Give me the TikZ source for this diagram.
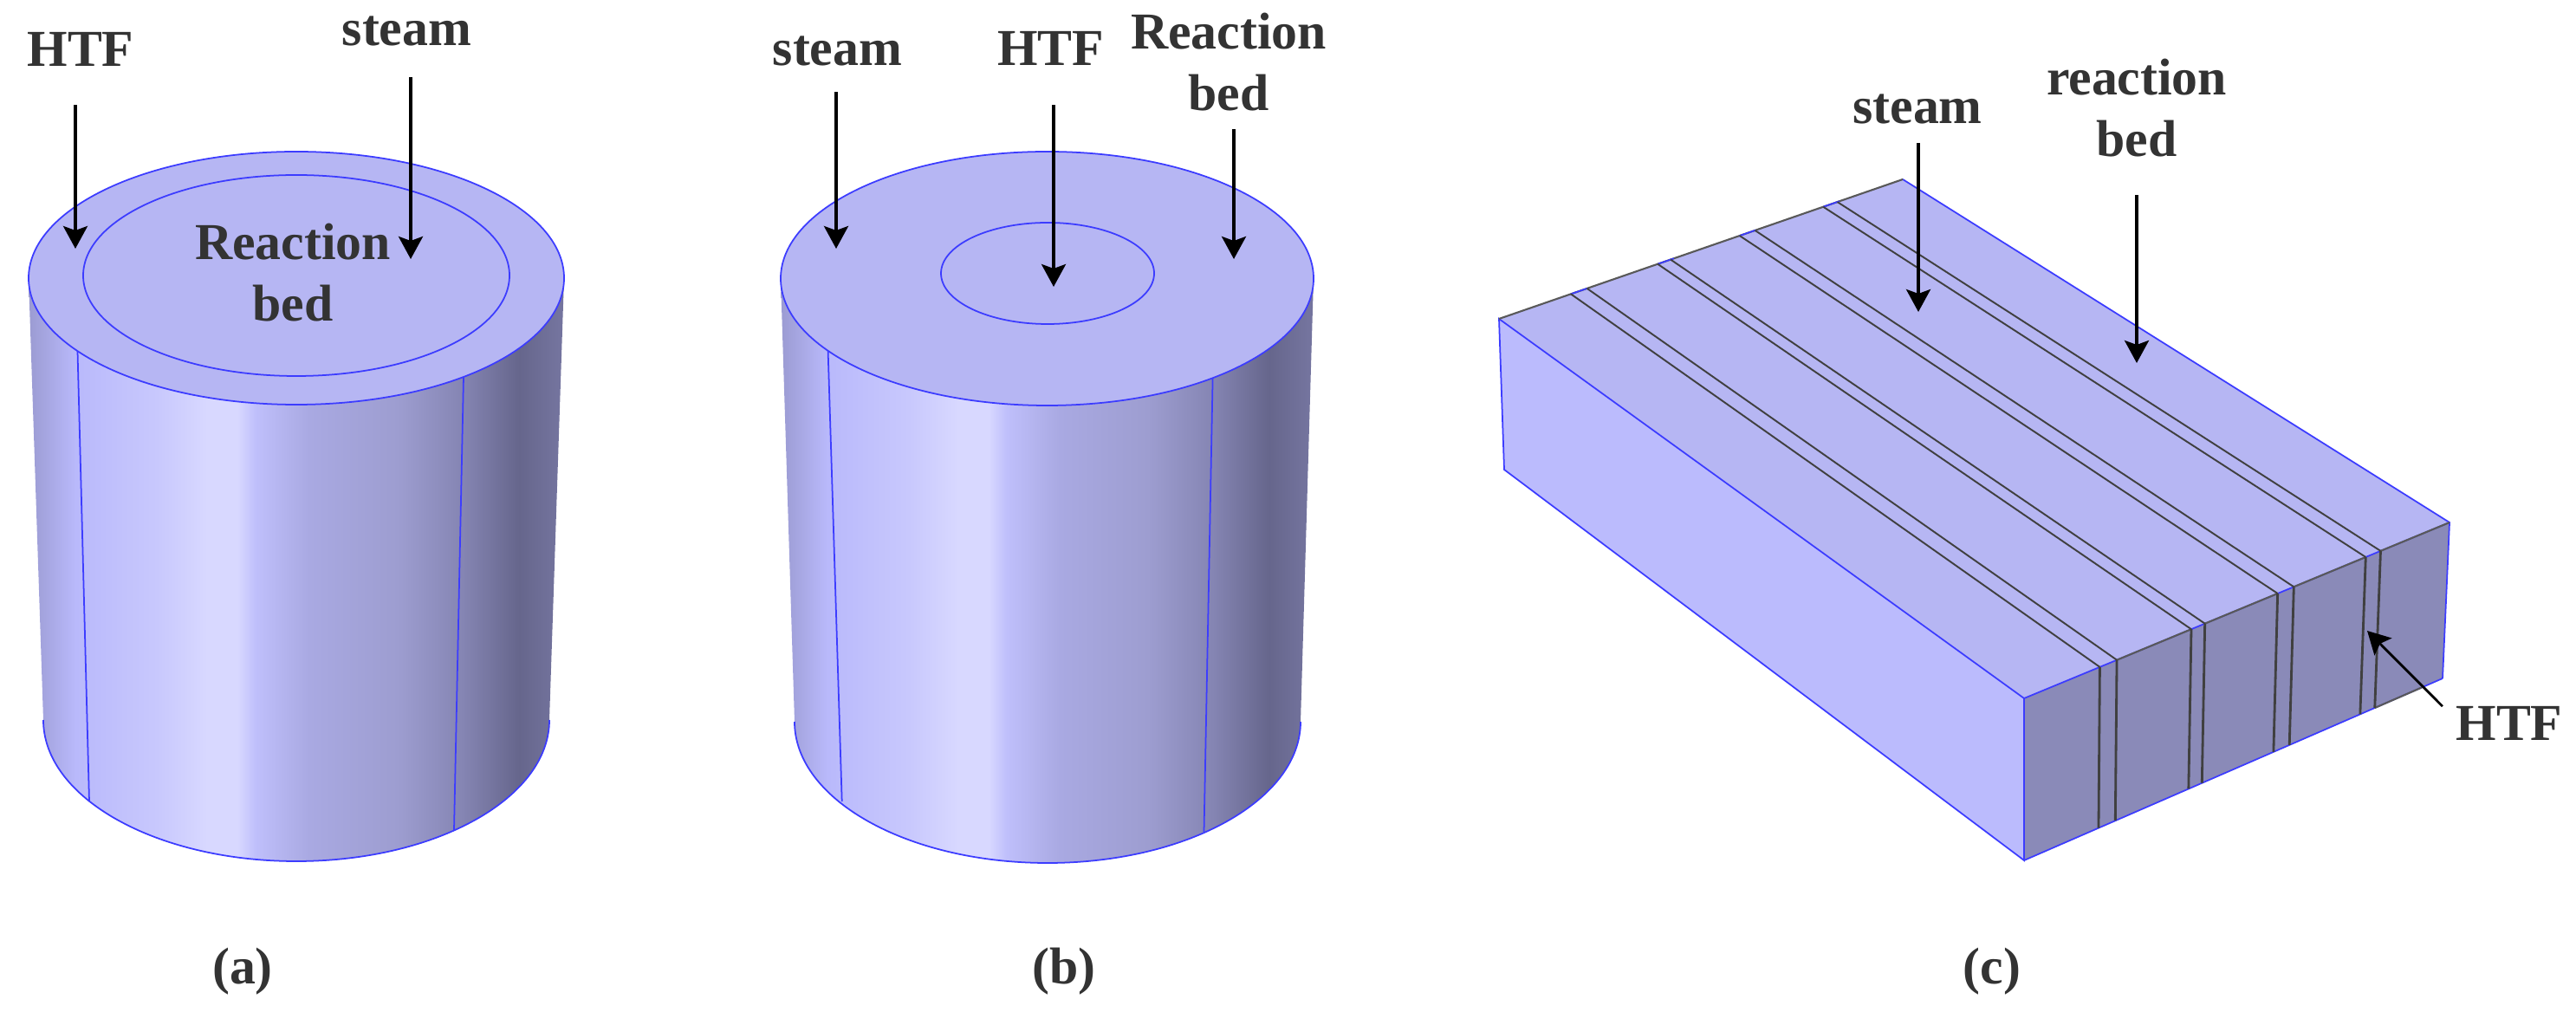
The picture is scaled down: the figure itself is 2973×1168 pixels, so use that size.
\documentclass[tikz,border=0pt]{standalone}
\usepackage{fontspec}
\setmainfont{Liberation Serif}
\usetikzlibrary{arrows.meta,calc}

\definecolor{edgeblue}{HTML}{3C3CFF}
\definecolor{topface}{HTML}{B6B6F3}
\definecolor{sideface}{HTML}{BBBBFD}
\definecolor{endface}{HTML}{8A8AB8}
\definecolor{labelgray}{HTML}{333333}
\definecolor{shA}{HTML}{9B9BD2}
\definecolor{shB}{HTML}{B9B9FB}
\definecolor{shC}{HTML}{C8C8FD}
\definecolor{shD}{HTML}{D8D8FF}
\definecolor{shE}{HTML}{BFBFFB}
\definecolor{shF}{HTML}{A9A9E2}
\definecolor{shG}{HTML}{9D9DD0}
\definecolor{shH}{HTML}{8585B3}
\definecolor{shI}{HTML}{66668C}
\definecolor{shJ}{HTML}{74749E}
\pgfdeclarehorizontalshading{cylbody}{100bp}{
  color(0bp)=(shA); color(25bp)=(shA); color(29.4bp)=(shB); color(37bp)=(shC);
  color(41.7bp)=(shD); color(44.5bp)=(shD); color(46.2bp)=(shE); color(51.2bp)=(shF);
  color(59.5bp)=(shG); color(65.5bp)=(shH); color(70.8bp)=(shI); color(74.5bp)=(shJ);
  color(100bp)=(shJ)}

\tikzset{
  lbl/.style={font=\fontsize{17}{20.4}\selectfont\bfseries, text=labelgray, inner sep=0pt, anchor=base, align=center},
  rim/.style={draw=edgeblue, line width=0.5pt},
  pointer/.style={-{Stealth[length=0.26cm,width=0.28cm,inset=0.05cm]}, line width=1pt, black},
  groove/.style={draw=black!75, line width=0.55pt},
  ridge/.style={draw=black!65, line width=0.6pt}
}

\begin{document}
\begin{tikzpicture}[x=0.01cm, y=-0.01cm]
    \useasboundingbox (0,0) rectangle (2973,1168);

    % Cylinder (a)
    \path[shading=cylbody] (33,321) -- (50,831) arc[start angle=180, end angle=0, x radius=292, y radius=163] -- (651,321) -- cycle;
    \draw[rim] (50,831) arc[start angle=180, end angle=0, x radius=292, y radius=163];
    \draw[rim] (89.5,405) -- (103,925);
    \draw[rim] (535,435) -- (524,958);
    \draw[rim, fill=topface] (342,321) ellipse[x radius=309, y radius=146];
    \draw[rim] (342,318) ellipse[x radius=246, y radius=116];

    % Cylinder (b)
    \path[shading=cylbody] (901,321) -- (917,833) arc[start angle=180, end angle=0, x radius=292, y radius=163] -- (1516,321) -- cycle;
    \draw[rim] (917,833) arc[start angle=180, end angle=0, x radius=292, y radius=163];
    \draw[rim] (955.6,405) -- (971.7,925);
    \draw[rim] (1399.6,437) -- (1389.5,960);
    \draw[rim, fill=topface] (1208.5,321.5) ellipse[x radius=307.5, y radius=146.5];
    \draw[rim] (1209,315.5) ellipse[x radius=123, y radius=58.5];

    % Block (c)
    \coordinate (blockW) at (1730,368);
    \coordinate (blockN) at (2196,207);
    \coordinate (blockE) at (2827,603);
    \coordinate (blockF) at (2336,806);
    \coordinate (blockWb) at (1736,542);
    \coordinate (blockFb) at (2336,993);
    \coordinate (blockEb) at (2819,783);
    \fill[topface] (blockW) -- (blockN) -- (blockE) -- (blockF) -- cycle;
    \fill[sideface] (blockW) -- (blockF) -- (blockFb) -- (blockWb) -- cycle;
    \fill[endface] (blockF) -- (blockE) -- (blockEb) -- (blockFb) -- cycle;
    \draw[rim] (blockW) -- (blockF) -- (blockFb) -- (blockWb) -- cycle;
    \draw[rim] (blockN) -- (blockE) -- (blockEb);
    \draw[rim] (blockF) -- (blockE);
    \draw[rim] (blockFb) -- (blockEb);
    \draw[ridge] (blockW) -- (blockN);
    \foreach \t in {0.178,0.393,0.596,0.803}
        \draw[rim] ($(blockW)!\t!(blockN)$) -- ($(blockW)!\t+0.04!(blockN)$);
    \foreach \t/\u in {0.218/0.393,0.425/0.596,0.634/0.803,0.838/1}
        \draw[ridge] ($(blockF)!\t!(blockE)$) -- ($(blockF)!\u!(blockE)$);
    \draw[ridge] ($(blockFb)!0.838!(blockEb)$) -- ($(blockFb)!0.95!(blockEb)$);

    % Grooves along the block
    \foreach \t in {0.178,0.218,0.393,0.425,0.596,0.634,0.803,0.838} {
        \draw[groove] ($(blockW)!\t!(blockN)$) -- ($(blockF)!\t!(blockE)$);
        \draw[groove, line width=0.8pt] ($(blockF)!\t!(blockE)$) -- ($(blockFb)!\t!(blockEb)$);
    }

    % Labels
    \node[lbl] (htfA) at (93,77) {HTF};
    \node[lbl] (steamA) at (469.5,53) {steam};
    \node[lbl] (bedA) at (338,371) {Reaction\\bed};
    \node[lbl] (steamB) at (966.5,76) {steam};
    \node[lbl] (htfB) at (1212.5,76) {HTF};
    \node[lbl] (bedB) at (1418,128) {Reaction\\bed};
    \node[lbl] (steamC) at (2213,143) {steam};
    \node[lbl] (bedC) at (2466,181) {reaction\\bed};
    \node[lbl] (htfC) at (2896,855) {HTF};
    \node[lbl] (capA) at (280,1136) {(a)};
    \node[lbl] (capB) at (1228,1136) {(b)};
    \node[lbl] (capC) at (2299,1136) {(c)};

    % Arrows
    \coordinate (tipHtfA) at (87,287);
    \coordinate (tipSteamA) at (474,299);
    \coordinate (tipSteamB) at (965,287);
    \coordinate (tipHtfB) at (1216,331);
    \coordinate (tipBedB) at (1424,299);
    \coordinate (tipSteamC) at (2214,360);
    \coordinate (tipBedC) at (2466,419);
    \coordinate (tipHtfC) at (2732,728);
    \draw[pointer] ([yshift=-0.44cm]htfA.base -| tipHtfA) -- (tipHtfA);
    \draw[pointer] ([yshift=-0.36cm]steamA.base -| tipSteamA) -- (tipSteamA);
    \draw[pointer] ([yshift=-0.30cm]steamB.base -| tipSteamB) -- (tipSteamB);
    \draw[pointer] ([yshift=-0.45cm]htfB.base -| tipHtfB) -- (tipHtfB);
    \draw[pointer] ([yshift=-0.21cm]bedB.base -| tipBedB) -- (tipBedB);
    \draw[pointer] ([yshift=-0.22cm]steamC.base -| tipSteamC) -- (tipSteamC);
    \draw[pointer] ([yshift=-0.44cm]bedC.base -| tipBedC) -- (tipBedC);
    \draw[pointer, line width=0.8pt] ([xshift=-0.15cm]htfC.north west) -- (tipHtfC);
\end{tikzpicture}
\end{document}
